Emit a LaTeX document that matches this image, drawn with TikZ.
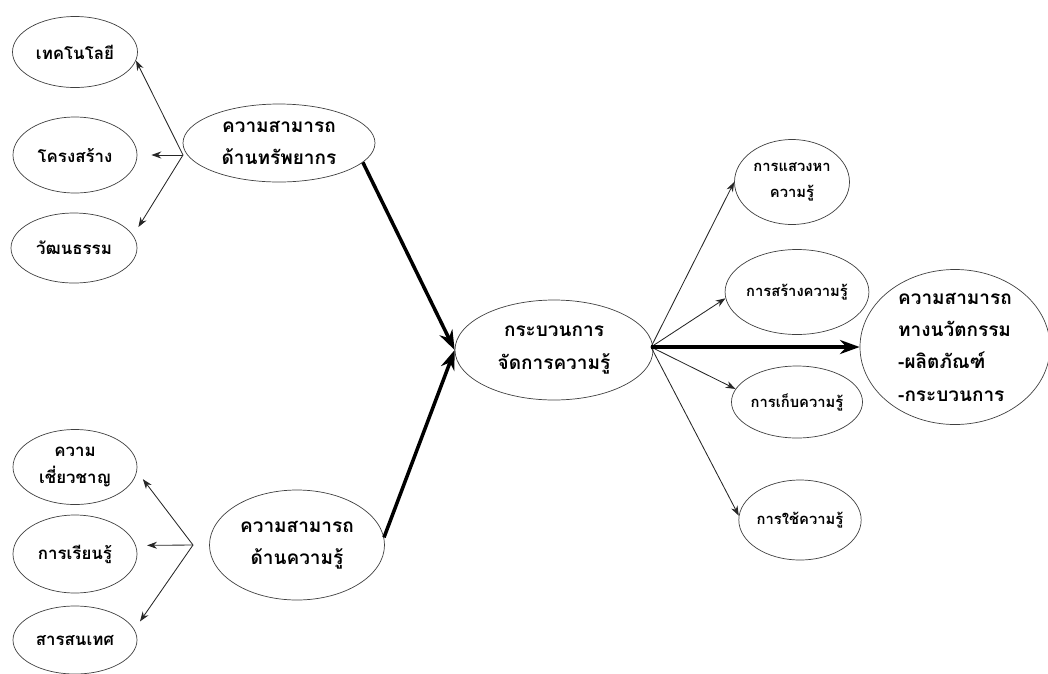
\documentclass[tikz,border=0pt]{standalone}
\usepackage{fontspec}
\setmainfont[Script=Thai]{Loma}
\usetikzlibrary{shapes.geometric,arrows.meta}
\newlength\pxu
\setlength\pxu{0.025cm}
\tikzset{
  bub/.style={ellipse,draw=black!75,line width=0.5pt,inner sep=0pt,align=center},
  small/.style={bub,font=\fontsize{12}{19}\selectfont\bfseries},
  smallr/.style={bub,font=\fontsize{10.5}{19}\selectfont\bfseries},
  big/.style={bub,font=\fontsize{13.5}{23}\selectfont\bfseries},
  sz/.style 2 args={minimum width=#1\pxu,minimum height=#2\pxu},
  thin arrow/.style={-{Stealth[length=7pt,width=5pt]},line width=0.6pt,black!85},
  heavy arrow/.style={-{Stealth[length=14pt,width=10pt]},line width=2.5pt,black}
}
\begin{document}
\begin{tikzpicture}[x=0.025cm,y=-0.025cm]
\useasboundingbox (0,0) rectangle (1048,673);

% left group: resources
\node[small,sz={125}{71}] (tech) at (75,52) {เทคโนโลยี};
\node[small,sz={124}{76}] (struct) at (75,155) {โครงสร้าง};
\node[small,sz={126}{70}] (cult) at (74,248) {วัฒนธรรม};
\node[big,sz={192}{78}] (res) at (279,143) {ความสามารถ\\ด้านทรัพยากร};

% left group: knowledge
\node[small,sz={124}{75}] (expert) at (75,467) {ความ\\เชี่ยวชาญ};
\node[small,sz={124}{78}] (learn) at (75,554) {การเรียนรู้};
\node[small,sz={124}{68}] (info) at (75,640) {สารสนเทศ};
\node[big,sz={175}{110}] (know) at (297,545) {ความสามารถ\\ด้านความรู้};

% centre
\node[big,sz={198}{100}] (proc) at (554,350) {กระบวนการ\\จัดการความรู้};

% right group
\node[smallr,sz={115}{85}] (seek) at (792,182) {การแสวงหา\\ความรู้};
\node[smallr,sz={108}{85}] (create) at (797,292) {การสร้างความรู้};
\node[smallr,sz={105}{72}] (store) at (797,402) {การเก็บความรู้};
\node[smallr,sz={110}{80}] (use) at (800,520) {การใช้ความรู้};
\node[big,sz={190}{155},align=left] (innov) at (955,347)
  {ความสามารถ\\ทางนวัตกรรม\\-ผลิตภัณฑ์\\-กระบวนการ};

% branching points
\coordinate (jr) at (183,155);
\coordinate (jk) at (193,545);
\coordinate (jp) at (651,347);

% thin branches
\draw[thin arrow] (jr) -- (tech.-8);
\draw[thin arrow,shorten >=10pt] (jr) -- (struct.east);
\draw[thin arrow,shorten >=7pt] (jr) -- (cult.12);
\draw[thin arrow,shorten >=7pt] (jk) -- (expert.-4);
\draw[thin arrow,shorten >=8pt] (jk) -- (learn.8);
\draw[thin arrow,shorten >=7pt] (jk) -- (info.10);
\draw[thin arrow] (jp) -- (seek.west);
\draw[thin arrow] (jp) -- (create.185);
\draw[thin arrow] (jp) -- (store.168);
\draw[thin arrow] (jp) -- (use.176);

% main flow
\draw[heavy arrow] (res.-13) -- (proc.west);
\draw[heavy arrow] (know.5) -- (proc.west);
\draw[heavy arrow] (jp) -- (innov.west);
\end{tikzpicture}
\end{document}
